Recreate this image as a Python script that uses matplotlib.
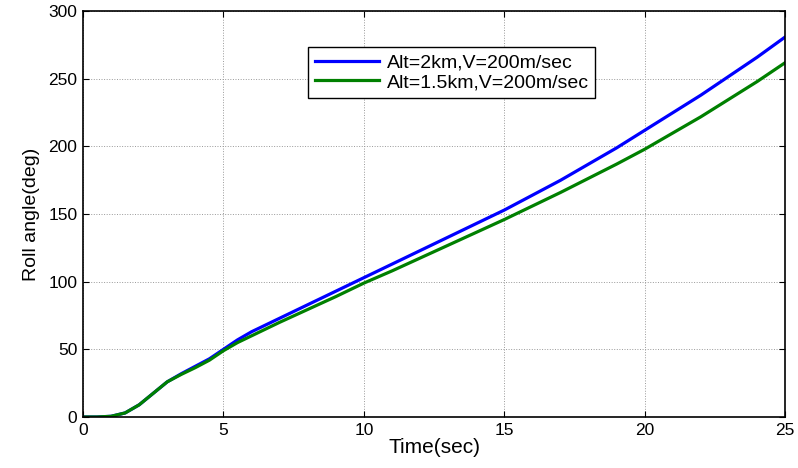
import matplotlib
matplotlib.use("Agg")
import matplotlib.pyplot as plt

plt.rcParams['font.family'] = ['Liberation Sans', 'DejaVu Sans']

time_s = [0, 0.5, 1, 1.5, 2, 2.5, 3, 3.5, 4, 4.5, 5, 5.5, 6, 7, 8, 9, 10, 11, 12, 13, 14,
          15, 16, 17, 18, 19, 20, 21, 22, 23, 24, 25]
roll_2km = [0, 0, 0.5, 3, 9, 17.5, 26, 32, 37.5, 43, 50, 57, 63, 73, 83, 93, 103, 113, 123,
            133, 143, 153, 164, 175, 187, 199, 212, 225, 238, 252, 266, 281]
roll_15km = [0, 0, 0.5, 3, 9, 17.5, 26, 31.5, 36.5, 42, 49, 55, 60, 70, 79.5, 89, 99, 108,
             117.5, 127, 136.5, 146, 156, 166, 176.5, 187, 198, 210, 222, 235, 248, 262]
labels = ['Alt=2km,V=200m/sec', 'Alt=1.5km,V=200m/sec']
xticks = [0, 5, 10, 15, 20, 25]
yticks = [0, 50, 100, 150, 200, 250, 300]

fig = plt.figure(figsize=(7.98, 4.68), dpi=100)
ax = fig.add_axes([0.104, 0.109, 0.880, 0.867])
ax.plot(time_s, roll_2km, color='#0000ff', lw=2.3, label=labels[0])
ax.plot(time_s, roll_15km, color='#008000', lw=2.3, label=labels[1])
ax.set_xlim(0, 25)
ax.set_ylim(0, 300)
ax.set_xticks(xticks)
ax.set_yticks(yticks)
ax.grid(True, linestyle=':', color='#999999', lw=0.7)
ax.tick_params(direction='in', top=True, right=True, labelsize=12.5, length=4, pad=4)
for s in ax.spines.values():
    s.set_linewidth(1.2)
ax.set_xlabel('Time(sec)', fontsize=15, labelpad=0)
ax.set_ylabel('Roll angle(deg)', fontsize=14, labelpad=6)
leg = ax.legend(loc='upper left', bbox_to_anchor=(0.32, 0.912), fontsize=14,
                fancybox=False, edgecolor='black', framealpha=1, handlelength=3.3,
                handletextpad=0.4, borderpad=0.35, labelspacing=0.12, borderaxespad=0)
leg.get_frame().set_linewidth(1.0)
fig.savefig('out.png', dpi=100)
